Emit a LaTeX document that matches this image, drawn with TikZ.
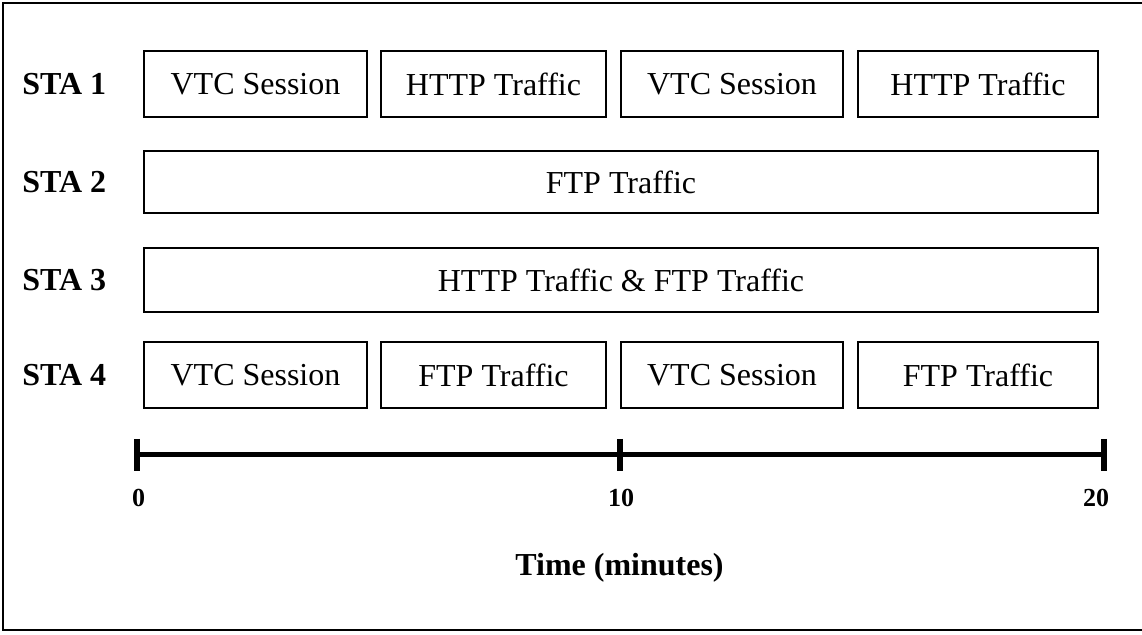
\documentclass[tikz,border=0pt]{standalone}
\usepackage{fontspec}
\setmainfont{Liberation Serif}
\usetikzlibrary{positioning}

\tikzset{
	slot/.style={draw, line width=0.9pt, minimum height=33pt, inner sep=0pt, font=\fontsize{16}{19}\selectfont},
	stalabel/.style={anchor=west, inner sep=0pt, font=\fontsize{16}{19}\selectfont\bfseries},
	ticklabel/.style={inner sep=0pt, font=\fontsize{13}{15}\selectfont\bfseries},
}

\begin{document}
\begin{tikzpicture}[x=0.5pt, y=-0.5pt]
			\useasboundingbox (0,0) rectangle (1142,635);
			% frame
			\draw[line width=1.2pt] (3,3) rectangle (1143,630);
			
			% station labels
			\foreach \y [count=\i] in {84, 182, 280, 375}
				\node[stalabel] (sta\i) at (22,\y) {STA \i};
			
			% STA 1 sessions
			\foreach \cx/\w/\txt [count=\i] in {255.5/111.5pt/VTC Session, 493.5/112.5pt/HTTP Traffic, 732/111pt/VTC Session, 978/120pt/HTTP Traffic}
				\node[slot, minimum width=\w] (a\i) at (\cx,84) {\txt};
			
			% STA 2 and STA 3 sessions
			\node[slot, minimum width=477pt, minimum height=31pt] (b1) at (621,182) {FTP Traffic};
			\node[slot, minimum width=477pt, minimum height=32pt] (c1) at (621,280) {HTTP Traffic \& FTP Traffic};
			
			% STA 4 sessions
			\foreach \cx/\w/\txt [count=\i] in {255.5/111.5pt/VTC Session, 493.5/112.5pt/FTP Traffic, 732/111pt/VTC Session, 978/120pt/FTP Traffic}
				\node[slot, minimum width=\w] (d\i) at (\cx,375) {\txt};
			
			% time axis
			\coordinate (t0) at (136.5,455);
			\coordinate (t10) at (620,455);
			\coordinate (t20) at (1104,455);
			\draw[line width=2.5pt] (t0) -- (t20);
			\foreach \t in {t0, t10, t20}
				\draw[line width=3pt] (\t) ++(0,-16) -- ++(0,32);
			
			\node[ticklabel] (n0) at (138.5,498) {0};
			\node[ticklabel] (n10) at (621,498) {10};
			\node[ticklabel] (n20) at (1096,498) {20};
			\node[stalabel, anchor=center] (tlabel) at (619.5,568) {Time (minutes)};
		\end{tikzpicture}
\end{document}
